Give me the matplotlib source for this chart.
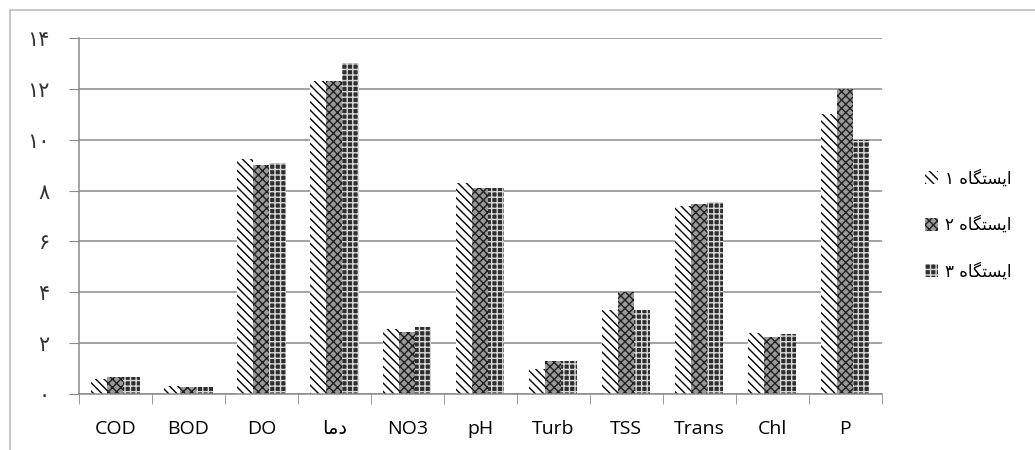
import numpy as np
import matplotlib.pyplot as plt
from matplotlib.patches import Rectangle

# دما written in visual order with presentation forms (matplotlib does no arabic shaping)
categories = ['COD', 'BOD', 'DO', '\uFE8E\uFEE3\uFEA9', 'NO3', 'pH', 'Turb', 'TSS', 'Trans', 'Chl', 'P']
station1 = [0.60, 0.30, 9.25, 12.3, 2.55, 8.30, 1.00, 3.30, 7.40, 2.40, 11.0]
station2 = [0.65, 0.28, 9.00, 12.3, 2.45, 8.10, 1.30, 4.00, 7.48, 2.25, 12.0]
station3 = [0.65, 0.28, 9.08, 13.0, 2.65, 8.10, 1.30, 3.30, 7.55, 2.35, 10.0]
# ایستگاه ۱ / ۲ / ۳
word = '\uFEE9\uFE8E\uFB95\uFE98\uFEB4\uFBFE\uFE8D'
labels = ['\u06F1 ' + word, '\u06F2 ' + word, '\u06F3 ' + word]
yticks = [0, 2, 4, 6, 8, 10, 12, 14]
persian = '\u06F0\u06F1\u06F2\u06F3\u06F4\u06F5\u06F6\u06F7\u06F8\u06F9'
ytick_labels = [''.join(persian[int(d)] for d in str(v)) for v in yticks]

plt.rcParams['font.family'] = ['Open Sans', 'DejaVu Sans']
plt.rcParams['hatch.linewidth'] = 1.0

fig = plt.figure(figsize=(10.35, 4.5), dpi=100)
ax = fig.add_axes([0.0763, 0.1244, 0.7757, 0.7912])

# frame around the whole chart
fig.patches.append(Rectangle((10/1035, -0.1), 1.2, 1 - 10/450 + 0.1, transform=fig.transFigure,
                             fill=False, edgecolor='#bdbdbd', linewidth=1.2))

x = np.arange(len(categories))
w = 0.22
styles = [dict(color='white', edgecolor='black', hatch='\\\\\\\\'),
          dict(color='#9a9a9a', edgecolor='#202020', hatch='xxxx'),
          dict(color='#2e2e2e', edgecolor='#d8d8d8', hatch='+++')]
bars = []
for i, vals in enumerate([station1, station2, station3]):
    b = ax.bar(x + (i - 1) * w, vals, w, linewidth=0, label=labels[i], **styles[i])
    bars.append(b)

ax.set_xlim(-0.5, len(categories) - 0.5)
ax.set_ylim(0, 14)
ax.set_yticks(yticks)
ax.set_yticklabels(ytick_labels, family=['DejaVu Sans'], fontsize=15, color='#333333')
ax.yaxis.grid(True, color='#8a8a8a', linewidth=1.1)
ax.set_axisbelow(True)
ax.set_xticks(x)
ax.set_xticklabels(categories, fontsize=14, color='black')
ax.set_xticks(np.arange(-0.5, len(categories)), minor=True)
ax.tick_params(axis='x', which='major', length=0, pad=19)
ax.tick_params(axis='x', which='minor', length=7, color='#8a8a8a')
ax.tick_params(axis='y', length=7, color='#8a8a8a', pad=14)
for s in ['top', 'right']:
    ax.spines[s].set_visible(False)
for s in ['left', 'bottom']:
    ax.spines[s].set_color('#8a8a8a')
    ax.spines[s].set_linewidth(1.1)

leg = fig.legend(handles=bars, loc='center left', bbox_to_anchor=(0.879, 0.5), frameon=False,
                 prop={'family': ['DejaVu Sans'], 'size': 12}, labelspacing=1.7,
                 handlelength=0.8, handleheight=0.8, handletextpad=0.4)

fig.savefig('out.png', dpi=100)
